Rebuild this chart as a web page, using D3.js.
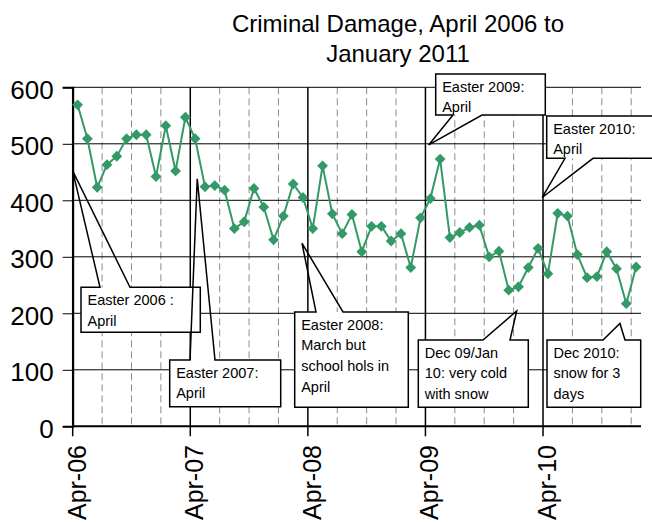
<!DOCTYPE html>
<html>
<head>
<meta charset="utf-8">
<script src="https://cdn.jsdelivr.net/npm/d3@7"></script>
<style>
  html, body { margin: 0; padding: 0; background: #fff; }
  svg { display: block; font-family: "Liberation Sans", Arial, sans-serif; }
</style>
</head>
<body>
<svg id="chart" width="652" height="524"></svg>
<script>
// ---- data ----
const titleLines = ["Criminal Damage, April 2006 to", "January 2011"];
const months = d3.timeMonth.range(new Date(2006, 3, 1), new Date(2011, 1, 1)); // Apr 2006 .. Jan 2011
const values = [
  569, 509, 423, 463, 478, 509, 516, 516, 442, 532, 452, 547,
  509, 424, 426, 418, 350, 362, 421, 388, 330, 372, 429, 405,
  350, 461, 376, 341, 375, 309, 354, 354, 328, 341, 281, 369,
  403, 473, 334, 343, 352, 356, 300, 310, 241, 247, 281, 315,
  270, 377, 372, 304, 263, 265, 309, 279, 217, 282
];
const xTickLabels = ["Apr-06", "Apr-07", "Apr-08", "Apr-09", "Apr-10"];
const yTicks = [0, 100, 200, 300, 400, 500, 600];

// annotation texts and the data point (month position, value) each callout points at
const annotationTexts = [
  ["Easter 2006 :", "April"],
  ["Easter 2007:", "April"],
  ["Easter 2008:", "March but", "school hols in", "April"],
  ["Easter 2009:", "April"],
  ["Easter 2010:", "April"],
  ["Dec 09/Jan", "10: very cold", "with snow"],
  ["Dec 2010:", "snow for 3", "days"]
];
const annotationTargets = [
  [0, 452], [12.71, 438], [23.4, 324], [36.33, 498], [47.92, 405], [45.31, 204], [55.85, 182]
];

// ---- layout (pixels) ----
const calloutBoxes = [
  { x0: 81,    y0: 287.3, x1: 200.3, y1: 332.3, side: "top",    b1: 100,  b2: 130 },
  { x0: 169.7, y0: 360,   x1: 280.7, y1: 406.7, side: "top",    b1: 190,  b2: 215 },
  { x0: 294.7, y0: 312,   x1: 408.3, y1: 407.3, side: "top",    b1: 316,  b2: 343 },
  { x0: 435.7, y0: 74,    x1: 545.3, y1: 115,   side: "bottom", b1: 453,  b2: 482 },
  { x0: 546.7, y0: 116,   x1: 662,   y1: 158.3, side: "bottom", b1: 565,  b2: 593 },
  { x0: 418.3, y0: 340,   x1: 528.3, y1: 407.3, side: "top",    b1: 483,  b2: 510 },
  { x0: 547,   y0: 340,   x1: 640.7, y1: 407.3, side: "top",    b1: 603,  b2: 625 }
];

(function () {
const svg = d3.select("#chart");
const pLeft = 72.7, pRight = 641, pTop = 87.3, pBottom = 426.3;
const green = "#339966";

const x = d3.scaleLinear().domain([0, months.length]).range([pLeft, pRight]);
const y = d3.scaleLinear().domain([0, 600]).range([pBottom, pTop]);

// title
svg.selectAll("text.title").data(titleLines).join("text")
  .attr("class", "title")
  .attr("x", 398).attr("y", (d, i) => 31.7 + i * 30)
  .attr("text-anchor", "middle")
  .attr("font-size", 24)
  .attr("fill", "#000")
  .text(d => d);

// dashed quarter gridlines
const quarterIdx = d3.range(0, months.length + 1).filter(i => i % 3 === 0 && i % 12 !== 0);
svg.append("g").selectAll("line").data(quarterIdx).join("line")
  .attr("x1", d => x(d)).attr("x2", d => x(d))
  .attr("y1", pTop).attr("y2", pBottom)
  .attr("stroke", "#8c8c8c").attr("stroke-width", 1)
  .attr("stroke-dasharray", "7,4");

// horizontal gridlines
svg.append("g").selectAll("line").data(yTicks.filter(d => d > 0)).join("line")
  .attr("x1", pLeft).attr("x2", pRight)
  .attr("y1", d => y(d)).attr("y2", d => y(d))
  .attr("stroke", "#000").attr("stroke-width", 1);

// yearly solid lines (April) with ticks below the axis
const yearIdx = xTickLabels.map((_, i) => i * 12);
svg.append("g").selectAll("line").data(yearIdx).join("line")
  .attr("x1", d => x(d)).attr("x2", d => x(d))
  .attr("y1", pTop).attr("y2", pBottom + 10)
  .attr("stroke", "#000").attr("stroke-width", 1.5);

// y axis
const yAxis = d3.axisLeft(y).tickValues(yTicks).tickSize(10).tickPadding(9).tickFormat(d3.format("d"));
const gy = svg.append("g").attr("transform", `translate(${pLeft},0)`).call(yAxis);
gy.select(".domain").attr("stroke", "#000").attr("stroke-width", 2);
gy.selectAll(".tick line").attr("stroke", "#000").attr("stroke-width", 1);
gy.selectAll(".tick text").attr("font-size", 26).attr("font-family", "Liberation Sans, Arial, sans-serif")
  .attr("fill", "#000").attr("dy", 11);

// x axis line
svg.append("line").attr("x1", pLeft).attr("x2", pRight).attr("y1", pBottom).attr("y2", pBottom)
  .attr("stroke", "#000").attr("stroke-width", 2);

// x labels
svg.append("g").selectAll("text").data(xTickLabels).join("text")
  .attr("transform", (d, i) => `translate(${x(i * 12) + 13},445) rotate(-90)`)
  .attr("text-anchor", "end")
  .attr("font-size", 25)
  .attr("fill", "#000")
  .text(d => d);

// series
svg.append("path").datum(values)
  .attr("d", d3.line().x((d, i) => x(i + 0.5)).y(d => y(d)))
  .attr("fill", "none").attr("stroke", green).attr("stroke-width", 2);
svg.append("g").selectAll("path").data(values).join("path")
  .attr("transform", (d, i) => `translate(${x(i + 0.5)},${y(d)})`)
  .attr("d", "M0,-5.4L5.4,0L0,5.4L-5.4,0Z")
  .attr("fill", green);

// callouts
const cg = svg.append("g");
calloutBoxes.forEach((b, k) => {
  const [tm, tv] = annotationTargets[k];
  const tx = x(tm), ty = y(tv);
  cg.append("rect").attr("x", b.x0).attr("y", b.y0)
    .attr("width", b.x1 - b.x0).attr("height", b.y1 - b.y0)
    .attr("fill", "#fff");
  let p;
  if (b.side === "top") {
    p = `M${b.x0},${b.y0}L${b.b1},${b.y0}L${tx},${ty}L${b.b2},${b.y0}L${b.x1},${b.y0}L${b.x1},${b.y1}L${b.x0},${b.y1}Z`;
  } else {
    p = `M${b.x0},${b.y0}L${b.x1},${b.y0}L${b.x1},${b.y1}L${b.b2},${b.y1}L${tx},${ty}L${b.b1},${b.y1}L${b.x0},${b.y1}Z`;
  }
  cg.append("path").attr("d", p).attr("fill", "none")
    .attr("stroke", "#000").attr("stroke-width", 1.5).attr("stroke-linejoin", "miter");
  cg.append("g").selectAll("text").data(annotationTexts[k]).join("text")
    .attr("x", b.x0 + 6.5)
    .attr("y", (d, i) => b.y0 + 17.5 + i * 20.7)
    .attr("font-size", 14.5)
    .attr("fill", "#000")
    .text(d => d);
});
})();
</script>
</body>
</html>
